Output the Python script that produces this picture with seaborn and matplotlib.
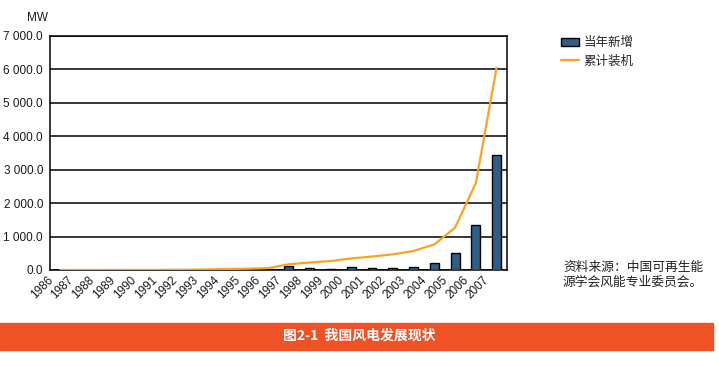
import matplotlib
matplotlib.use("Agg")
import matplotlib.pyplot as plt
from matplotlib.patches import Rectangle
from matplotlib.ticker import FuncFormatter
import numpy as np
import pandas as pd
import seaborn as sns

# 当年新增 / 累计装机, MW
YEARS = [str(y) for y in range(1986, 2008)]
NEW_CAPACITY = [1.0, 0.3, 0.4, 2.8, 0.2, 1.3, 2.5, 9.0, 13.0, 8.0, 19.0,
                113.0, 54.0, 44.0, 78.0, 56.0, 66.0, 100.0, 196.0, 502.0, 1337.0, 3449.0]
CUMULATIVE = [1.0, 1.8, 2.2, 4.2, 4.4, 5.5, 8.0, 17.0, 30.0, 38.0, 57.0,
              170.0, 224.0, 268.0, 346.0, 402.0, 468.0, 568.0, 764.0, 1266.0, 2599.0, 6050.0]
Y_TICKS = [0, 1000, 2000, 3000, 4000, 5000, 6000, 7000]

BAR_COLOR = "#2F5E86"
LINE_COLOR = "#FBA320"
BANNER_COLOR = "#F05125"

sns.set_style("white")
plt.rcParams["font.family"] = ["Liberation Sans", "Noto Sans CJK SC", "DejaVu Sans"]
CJK = ["Noto Sans CJK SC", "DejaVu Sans"]

df = pd.DataFrame({"year": YEARS, "new": NEW_CAPACITY, "total": CUMULATIVE})
df["pos"] = np.arange(len(df))

fig = plt.figure(figsize=(7.19, 3.66), dpi=100)
ax = fig.add_axes([50 / 719, 96 / 366, 457 / 719, 234 / 366])

sns.barplot(data=df, x="year", y="new", color=BAR_COLOR, edgecolor="black",
            linewidth=1.0, width=0.43, saturation=1, label="当年新增", ax=ax, zorder=3)
sns.lineplot(data=df, x="pos", y="total", color=LINE_COLOR, linewidth=1.6,
             label="累计装机", ax=ax, zorder=4)

n = len(YEARS)
ax.set_xlim(-0.5, n - 0.5)
ax.set_ylim(0, 7000)
ax.set_yticks(Y_TICKS)
ax.yaxis.set_major_formatter(FuncFormatter(lambda v, _: f"{v:,.1f}".replace(",", " ")))
ax.grid(axis="y", color="black", linewidth=1.1)
ax.set_axisbelow(True)

ax.set_xticks(df["pos"] - 0.24)
ax.set_xticklabels(YEARS, rotation=45, ha="right")
ax.set_xticks(np.arange(n - 1) + 0.5, minor=True)
ax.tick_params(axis="x", which="major", length=0, pad=3, labelsize=8.5, colors="#1a1a1a")
ax.tick_params(axis="x", which="minor", direction="in", length=4, width=1, color="black")
ax.tick_params(axis="y", length=0, pad=5, labelsize=8.5, colors="#1a1a1a")
ax.set_xlabel("")
ax.set_ylabel("")
for side in ["left", "bottom", "right", "top"]:
    ax.spines[side].set_visible(True)
    ax.spines[side].set_color("black")
    ax.spines[side].set_linewidth(1.1)

handles, labels = ax.get_legend_handles_labels()
order = [labels.index("当年新增"), labels.index("累计装机")]
handles = [handles[i] for i in order]
labels = [labels[i] for i in order]
if ax.get_legend() is not None:
    ax.get_legend().remove()
fig.legend(handles, labels, loc="upper left", bbox_to_anchor=(561 / 719, 1 - 36 / 366),
           frameon=False, prop={"family": CJK, "size": 9}, borderpad=0, borderaxespad=0,
           handlelength=1.4, handleheight=0.6, handletextpad=0.4, labelspacing=0.45)

fig.text(27 / 719, 1 - 18 / 366, "MW", fontsize=8.5, va="center", ha="left", color="#1a1a1a")

fig.text(563 / 719, 1 - 267 / 366, "资料来源：中国可再生能", family=CJK, fontsize=9.2,
         va="center", ha="left", color="#222222")
fig.text(563 / 719, 1 - 282.5 / 366, "源学会风能专业委员会。", family=CJK, fontsize=9.2,
         va="center", ha="left", color="#222222")

fig.patches.append(Rectangle((0, 1 - 349.5 / 366), 713 / 719, 27 / 366,
                             transform=fig.transFigure, color=BANNER_COLOR, zorder=0))
fig.text(359 / 719, 1 - 336 / 366, "图2-1  我国风电发展现状", family=CJK, fontsize=10,
         fontweight="bold", color="white", ha="center", va="center")

fig.savefig("out.png", dpi=100)
